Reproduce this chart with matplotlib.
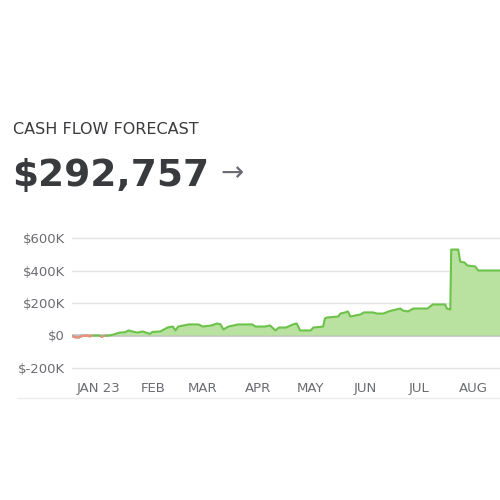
import numpy as np
import matplotlib.pyplot as plt
from matplotlib.lines import Line2D

# days from Jan 1, cash balance in $K
days = [-15, -13, -11, -9, -6, -5, -4, 0, 2, 3, 6, 8.5, 12, 15, 17, 19, 22, 25, 29, 30.5,
        35, 39, 42, 43.5, 45, 51, 56.5, 59, 64, 67, 69, 70.6, 73.4, 79, 87, 88.7, 94, 97,
        100, 102, 106, 110, 112, 114, 120, 121.5, 127, 128, 129.4, 135.6, 136.7, 139.5,
        141, 142.4, 148, 150, 155, 157.6, 161, 164, 166, 170.6, 172, 175, 178, 186, 189,
        196, 197, 198.9, 199.4, 203.4, 204.5, 207, 208.5, 213, 214.7, 228]
cash = [-3, -12, -12, -2, -1, -6, -1, 0, -8, -2, 0, 6, 18, 20, 31, 25, 18, 25, 10, 22,
        25, 49, 55, 31, 55, 68, 68, 55, 62, 74, 68, 37, 55, 68, 68, 55, 55, 62,
        31, 49, 49, 68, 74, 31, 31, 49, 55, 105, 111, 117, 135, 142,
        148, 117, 129, 142, 142, 135, 135, 148, 154, 166, 154, 148, 166, 166, 191,
        191, 166, 160, 529, 529, 455, 449, 431, 425, 400, 400]

month_days = [0, 31, 59, 90, 120, 151, 181, 212]
month_labels = ['JAN 23', 'FEB', 'MAR', 'APR', 'MAY', 'JUN', 'JUL', 'AUG']
y_ticks = [-200, 0, 200, 400, 600]
y_labels = ['$-200K', '$0', '$200K', '$400K', '$600K']

title = 'CASH FLOW FORECAST'
total = '$292,757'

x = np.array(days, dtype=float)
y = np.array(cash, dtype=float)

green = '#6cc24a'
green_fill = '#b9e2a0'
red = '#f28b82'

fig = plt.figure(figsize=(5, 5), dpi=100)
ax = fig.add_axes([0.144, 0.2608, 0.856, 0.2664])

ax.fill_between(x, y, 0, where=y >= 0, interpolate=True, color=green_fill, lw=0)
ax.fill_between(x, y, 0, where=y <= 0, interpolate=True, color='#f9c9c4', lw=0)
ax.plot(x, y, color=green, lw=1.5)
neg = np.where(y < 0, y, np.nan)
ax.plot(x, neg, color=red, lw=1.5)

for t in y_ticks:
    if t == 0:
        ax.axhline(t, color='#bdbdbd', lw=1.8, zorder=0.5)
    else:
        ax.axhline(t, color='#e3e3e3', lw=1, zorder=0)

ax.set_xlim(-15, 227)
ax.set_ylim(-210, 610)
ax.set_yticks(y_ticks)
ax.set_yticklabels(y_labels)
ax.set_xticks(month_days)
ax.set_xticklabels(month_labels)
ax.tick_params(length=0, colors='#6b6c72', labelsize=9.5)
ax.tick_params(axis='y', pad=5)
ax.tick_params(axis='x', pad=9)
for s in ax.spines.values():
    s.set_visible(False)

fig.text(0.026, 0.731, title, fontsize=11.5, color='#393a3d', va='baseline')
fig.text(0.024, 0.628, total, fontsize=27, fontweight='bold', color='#393a3d', va='baseline')
fig.text(0.44, 0.638, '\u2192', fontsize=20, color='#6b6c72', va='baseline')

fig.add_artist(Line2D([0.034, 1.0], [0.204, 0.204], color='#ececec', lw=1))

fig.savefig('out.png', dpi=100, facecolor='white')
